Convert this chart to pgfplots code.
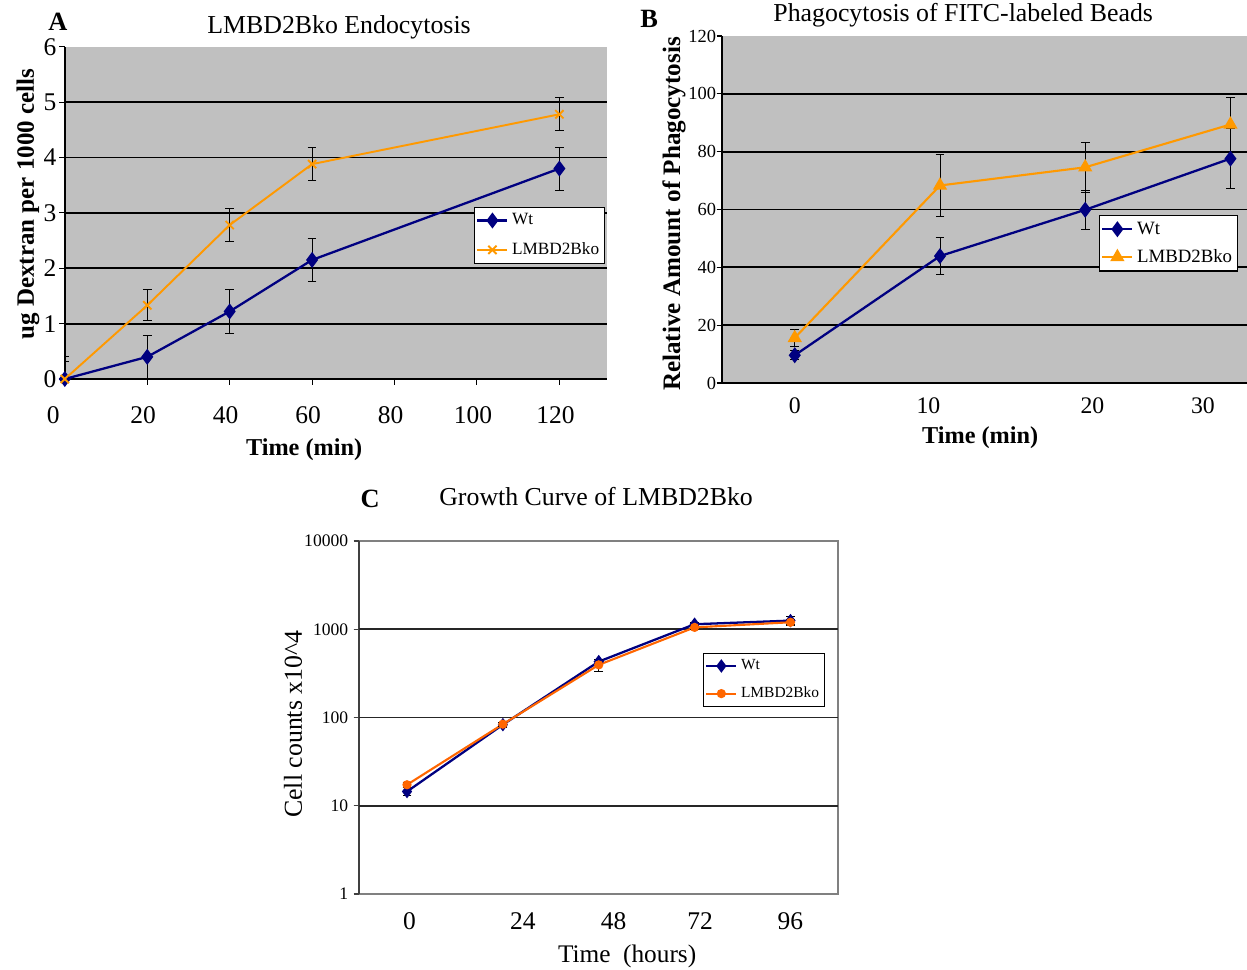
\documentclass[border=0pt]{standalone}
\usepackage{fontspec}
\setmainfont{Liberation Serif}
\usepackage{pgfplots}
\pgfplotsset{compat=1.18}

\definecolor{wtblue}{HTML}{000080}
\definecolor{koorange}{HTML}{FF9900}
\definecolor{kored}{HTML}{FF6600}
\definecolor{plotgray}{HTML}{C0C0C0}

\pgfplotsset{
  panel/.style={
    scale only axis, anchor=south west,
    axis lines=left, axis line style={-, black, line width=0.8pt},
    tick align=outside, major tick length=0.11cm,
    tick style={black, line width=0.6pt},
    major grid style={black, line width=1pt},
    /pgf/number format/assume math mode=true,
    /pgf/number format/1000 sep={},
    legend cell align=left,
    legend style={draw=black, fill=white, line width=0.6pt, anchor=north west,
      inner xsep=1pt, inner ysep=1.5pt},
  },
  ebar/.style={error bars/.cd, y dir=both, y explicit,
    error bar style={black, line width=0.5pt},
    error mark options={rotate=90, black, mark size=2.5pt, line width=0.5pt}},
}

\begin{document}
\begin{tikzpicture}
\useasboundingbox (0,0) rectangle (24.94cm,-19.4cm);

% A: endocytosis
\begin{axis}[panel, at={(1.296cm,-7.58cm)}, width=10.84cm, height=6.646cm,
  xmin=0, xmax=131.5, ymin=0, ymax=6,
  axis background/.style={fill=plotgray},
  xtick={0,20,...,120}, ytick={0,...,6},
  xticklabels={\makebox[0pt]{\hspace*{-0.3cm}0},20,40,60,80,100,120},
  extra y ticks={1,...,5}, extra y tick labels={}, extra y tick style={grid=major},
  ticklabel style={font=\fontsize{14.5}{17}\selectfont},
  xticklabel style={anchor=center, yshift=-0.62cm, xshift=-0.08cm},
  yticklabel style={anchor=east, inner sep=0pt, xshift=-0.05cm},
  legend style={at={(0.755,0.518)}, font=\fontsize{9.8}{11}\selectfont, row sep=4.6pt},
]
\addplot[wtblue, line width=1.3pt, mark=diamond*, mark size=3.5pt, ebar] coordinates {
  (0,0) +- (0,0.4) (20,0.4) +- (0,0.39) (40,1.22) +- (0,0.39)
  (60,2.15) +- (0,0.39) (120,3.8) +- (0,0.39)
};
\addlegendentry{Wt}
\addplot[koorange, line width=1.1pt, mark=x, mark size=3.3pt, ebar] coordinates {
  (0,0) +- (0,0.31) (20,1.33) +- (0,0.28) (40,2.78) +- (0,0.3)
  (60,3.88) +- (0,0.3) (120,4.78) +- (0,0.3)
};
\addlegendentry{LMBD2Bko}
\end{axis}

% B: phagocytosis
\begin{axis}[panel, at={(14.44cm,-7.66cm)}, width=10.5cm, height=6.94cm,
  xmin=-5.01, xmax=31.14, ymin=0, ymax=120,
  axis background/.style={fill=plotgray},
  xtick={0,9.2,20.5,28.1}, xticklabels={0,10,20,30}, xtick style={draw=none},
  ytick={0,20,...,120},
  extra y ticks={20,40,...,100}, extra y tick labels={}, extra y tick style={grid=major},
  xticklabel style={font=\fontsize{13.5}{16}\selectfont, anchor=center, yshift=-0.34cm},
  yticklabel style={font=\fontsize{10.5}{12}\selectfont, anchor=east, inner sep=0pt},
  legend style={at={(0.718,0.484)}, font=\fontsize{10.7}{12.5}\selectfont, row sep=3.1pt},
]
\addplot[wtblue, line width=1.3pt, mark=diamond*, mark size=3.5pt, ebar] coordinates {
  (0,9.6) +- (0,1.5) (10,43.9) +- (0,6.3) (20,59.9) +- (0,6.8) (30,77.6) +- (0,10.4)
};
\addlegendentry{Wt}
\addplot[koorange, line width=1.2pt, mark=triangle*, mark size=3.5pt, ebar] coordinates {
  (0,15.6) +- (0,2.8) (10,68.3) +- (0,10.7) (20,74.6) +- (0,8.6) (30,89.4) +- (0,9.2)
};
\addlegendentry{LMBD2Bko}
\end{axis}

% C: growth curve
\begin{axis}[panel, at={(7.18cm,-17.88cm)}, width=9.58cm, height=7.06cm,
  ymode=log, ymin=1, ymax=10000, xmin=-12.02, xmax=107.9,
  axis background/.style={fill=white, draw=gray, line width=0.8pt},
  y axis line style={black!75}, x axis line style={gray},
  ytick style={black!75},
  major grid style={black!85, line width=1pt},
  ytick={1,10,100,1000,10000}, yticklabels={1,10,100,1000,10000},
  yminorticks=false,
  extra y ticks={10,100,1000}, extra y tick labels={}, extra y tick style={grid=major},
  xtick={0.6,29,51.7,73.4,96}, xticklabels={0,24,48,72,96}, xtick style={draw=none},
  xticklabel style={font=\fontsize{14.5}{17}\selectfont, anchor=center, yshift=-0.44cm},
  yticklabel style={font=\fontsize{10}{12}\selectfont, anchor=east, inner sep=0pt, xshift=-0.1cm},
  legend style={at={(0.718,0.683)}, font=\fontsize{8.8}{10}\selectfont, row sep=4.3pt},
]
\addplot[wtblue, line width=1.3pt, mark=diamond*, mark size=2.8pt, ebar] coordinates {
  (0,14.5) +- (0,1.5) (24,83) +- (0,5) (48,430) +- (0,30) (72,1140) +- (0,60) (96,1253) +- (0,150)
};
\addlegendentry{Wt}
\addplot[kored, line width=1.2pt, mark=*, mark size=2pt, ebar] coordinates {
  (0,17.3) +- (0,1) (24,84) +- (0,5) (48,395) +- (0,60) (72,1050) +- (0,50) (96,1200) +- (0,80)
};
\addlegendentry{LMBD2Bko}
\end{axis}

\begin{scope}[x=0.02cm, y=-0.02cm]
\node[font=\fontsize{15}{18}\selectfont\bfseries] at (58,22) {A};
\node[font=\fontsize{14.7}{17}\selectfont] at (339,27) {LMBD2Bko Endocytosis};
\node[font=\fontsize{14.2}{17}\selectfont\bfseries, rotate=90] at (28,204) {ug Dextran per 1000 cells};
\node[font=\fontsize{13.8}{16}\selectfont\bfseries] at (304,450) {Time (min)};

\node[font=\fontsize{15}{18}\selectfont\bfseries] at (649,19) {B};
\node[font=\fontsize{14.7}{17}\selectfont] at (963,15) {Phagocytosis of FITC-labeled Beads};
\node[font=\fontsize{14.3}{17}\selectfont\bfseries, rotate=90] at (674,214) {Relative Amount of Phagocytosis};
\node[font=\fontsize{13.8}{16}\selectfont\bfseries] at (980,438) {Time (min)};

\node[font=\fontsize{15}{18}\selectfont\bfseries] at (370,499) {C};
\node[font=\fontsize{14.7}{17}\selectfont] at (596,496) {Growth Curve of LMBD2Bko};
\node[font=\fontsize{14.7}{17}\selectfont, rotate=90] at (293,724) {Cell counts x10\^{}4};
\node[font=\fontsize{14.4}{17}\selectfont] at (627,956) {Time\ \ (hours)};
\end{scope}
\end{tikzpicture}
\end{document}
